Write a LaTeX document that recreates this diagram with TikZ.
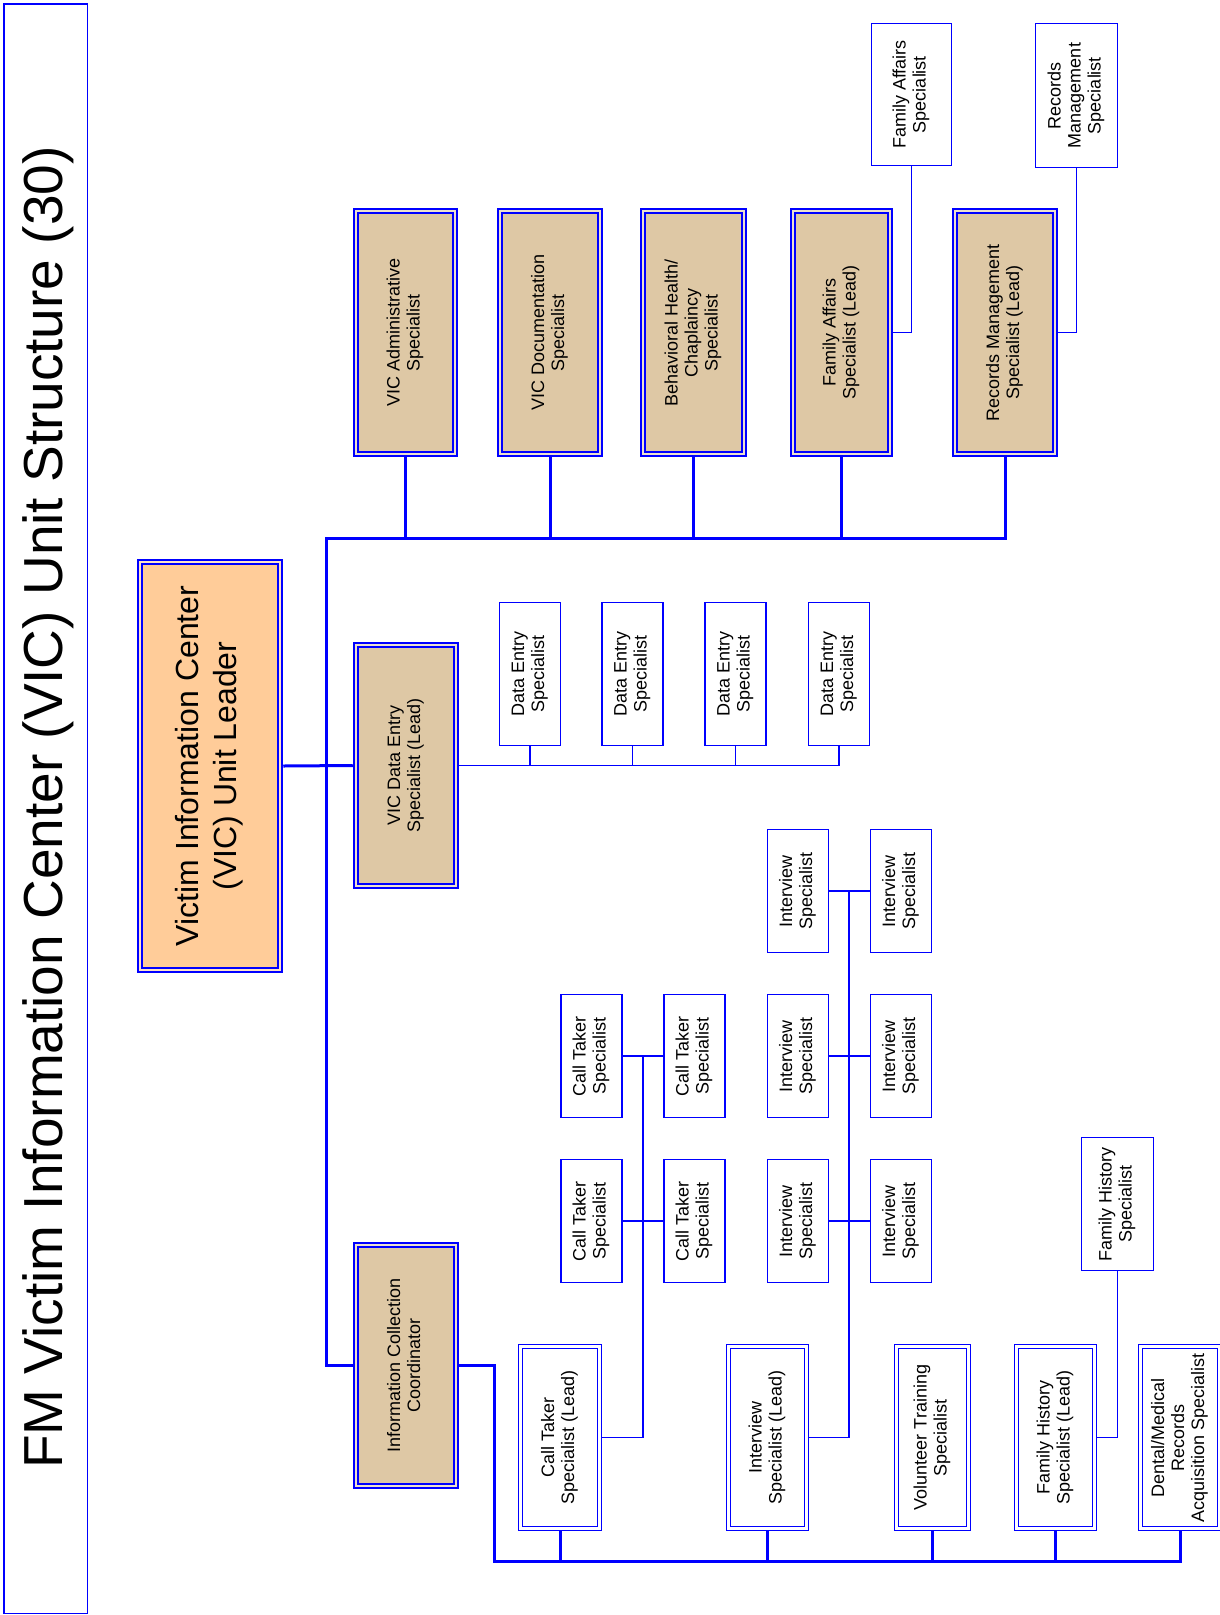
\documentclass[tikz,border=0pt]{standalone}
\usepackage{fontspec}
\setmainfont{Liberation Sans}
\usepackage{graphicx}
\usepackage{xcolor}
\usepackage{tikz}

\definecolor{leadtan}{RGB}{222,200,165}
\definecolor{leaderpeach}{RGB}{255,204,153}
\newcommand{\sidetext}[1]{\rotatebox{90}{\begin{tabular}{@{}c@{}}#1\end{tabular}}}

\tikzset{
  leadbox/.style={draw=blue, fill=leadtan, double=leadtan!55!white, line width=2.7pt, double distance=1.1pt, outer sep=3.25pt, inner sep=0pt},
  leaderbox/.style={leadbox, fill=leaderpeach, double=leaderpeach!55!white},
  wlead/.style={draw=blue, fill=white, double=white, line width=1.3pt, double distance=2.8pt, outer sep=2.7pt, inner sep=0pt},
  wbox/.style={draw=blue, fill=white, line width=1.3pt, inner sep=0pt},
  busline/.style={draw=blue, line width=3pt},
  twig/.style={draw=blue, line width=1.5pt},
  sz/.style 2 args={minimum width=#1pt, minimum height=#2pt}
}

\begin{document}
\begin{tikzpicture}[x=1pt, y=-1pt, font=\fontsize{18}{20}\selectfont]
	\useasboundingbox (0,0) rectangle (1220,1615);
	% Title
	\node[draw=blue, line width=1.5pt, sz={83.5}{1609.5}] (frame) at (45.5,808.5) {};
	\node[rotate=90, anchor=base, font=\fontsize{55}{60}\selectfont] (title) at (62,807.5) {FM Victim Information Center (VIC) Unit Structure (30)};
	% Unit leader
	\node[leaderbox, sz={140}{408}, font=\fontsize{32}{38}\selectfont] (leader) at (210,766) {\sidetext{Victim Information Center\\(VIC) Unit Leader}};
	% Leads on the top row
	\node[leadbox, sz={99}{243}] (admin) at (405.5,332.5) {\sidetext{VIC Administrative\\Specialist}};
	\node[leadbox, sz={100}{243}] (docu) at (550,332.5) {\sidetext{VIC Documentation\\Specialist}};
	\node[leadbox, sz={101}{243}] (behav) at (693.5,332.5) {\sidetext{Behavioral Health/\\Chaplaincy\\Specialist}};
	\node[leadbox, sz={97}{243}] (famlead) at (841.5,332.5) {\sidetext{Family Affairs\\Specialist (Lead)}};
	\node[leadbox, sz={100}{243}] (reclead) at (1005,332.5) {\sidetext{Records Management\\Specialist (Lead)}};
	\node[wbox, sz={80}{142}] (fasp) at (911.5,94.5) {\sidetext{Family Affairs\\Specialist}};
	\node[wbox, sz={82}{144}] (rmsp) at (1076.5,95.5) {\sidetext{Records\\Management\\Specialist}};
	% Data entry
	\node[leadbox, sz={100}{241}] (dlead) at (406,765.5) {\sidetext{VIC Data Entry\\Specialist (Lead)}};
	\foreach \x [count=\i] in {530,632.5,735.5,839}
		\node[wbox, sz={61}{143}] (de\i) at (\x,674) {\sidetext{Data Entry\\Specialist}};
	% Information collection
	\node[leadbox, sz={100}{241}] (icc) at (406,1365.5) {\sidetext{Information Collection\\Coordinator}};
	\node[wlead, sz={79}{182}] (ctlead) at (560,1437.5) {\sidetext{Call Taker\\Specialist (Lead)}};
	\node[wlead, sz={78}{182}] (ivlead) at (767.5,1437.5) {\sidetext{Interview\\Specialist (Lead)}};
	\node[wlead, sz={72}{182}] (voltr) at (932.5,1437.5) {\sidetext{Volunteer Training\\Specialist}};
	\node[wlead, sz={78}{182}] (fhlead) at (1055.5,1437.5) {\sidetext{Family History\\Specialist (Lead)}};
	\node[wlead, sz={79}{182}] (dental) at (1180,1437.5) {\sidetext{Dental/Medical\\Records\\Acquisition Specialist}};
	\node[wbox, sz={72}{133}] (fhsp) at (1117.5,1204) {\sidetext{Family History\\Specialist}};
	\foreach \x/\c in {591.5/a,694.5/b} \foreach \y/\r in {1056/1,1221/2}
		\node[wbox, sz={61}{123}] (ct\c\r) at (\x,\y) {\sidetext{Call Taker\\Specialist}};
	\foreach \x/\c in {798/a,901/b} \foreach \y/\r in {891/1,1056/2,1221/3}
		\node[wbox, sz={61}{123}] (iv\c\r) at (\x,\y) {\sidetext{Interview\\Specialist}};
	% Main lines
	\coordinate (topbus) at (326,538);
	\coordinate (lowbus) at (494,1561);
	\draw[busline] (icc.west) -| (topbus) -| (reclead.south);
	\foreach \b in {admin,docu,behav,famlead} \draw[busline] (\b.south) -- (\b.south |- topbus);
	\draw[busline] (leader.east) -- (dlead.west);
	\draw[busline] (icc.east) -| (lowbus) -| (dental.south);
	\foreach \b in {ctlead,ivlead,voltr,fhlead} \draw[busline] (\b.south) -- (\b.south |- lowbus);
	% Specialist lines
	\draw[twig] (famlead.east) -| (fasp.south);
	\draw[twig] (reclead.east) -| (rmsp.south);
	\draw[twig] (dlead.east) -| (de4.south);
	\foreach \i in {1,2,3} \draw[twig] (de\i.south) -- (de\i.south |- dlead.east);
	\coordinate (ctjoin) at (643,1056);
	\draw[twig] (ctlead.east) -| (ctjoin);
	\foreach \r in {1,2} \draw[twig] (cta\r.east) -- (ctb\r.west);
	\coordinate (ivjoin) at (849,891);
	\draw[twig] (ivlead.east) -| (ivjoin);
	\foreach \r in {1,2,3} \draw[twig] (iva\r.east) -- (ivb\r.west);
	\draw[twig] (fhlead.east) -| (fhsp.south);
\end{tikzpicture}
\end{document}
